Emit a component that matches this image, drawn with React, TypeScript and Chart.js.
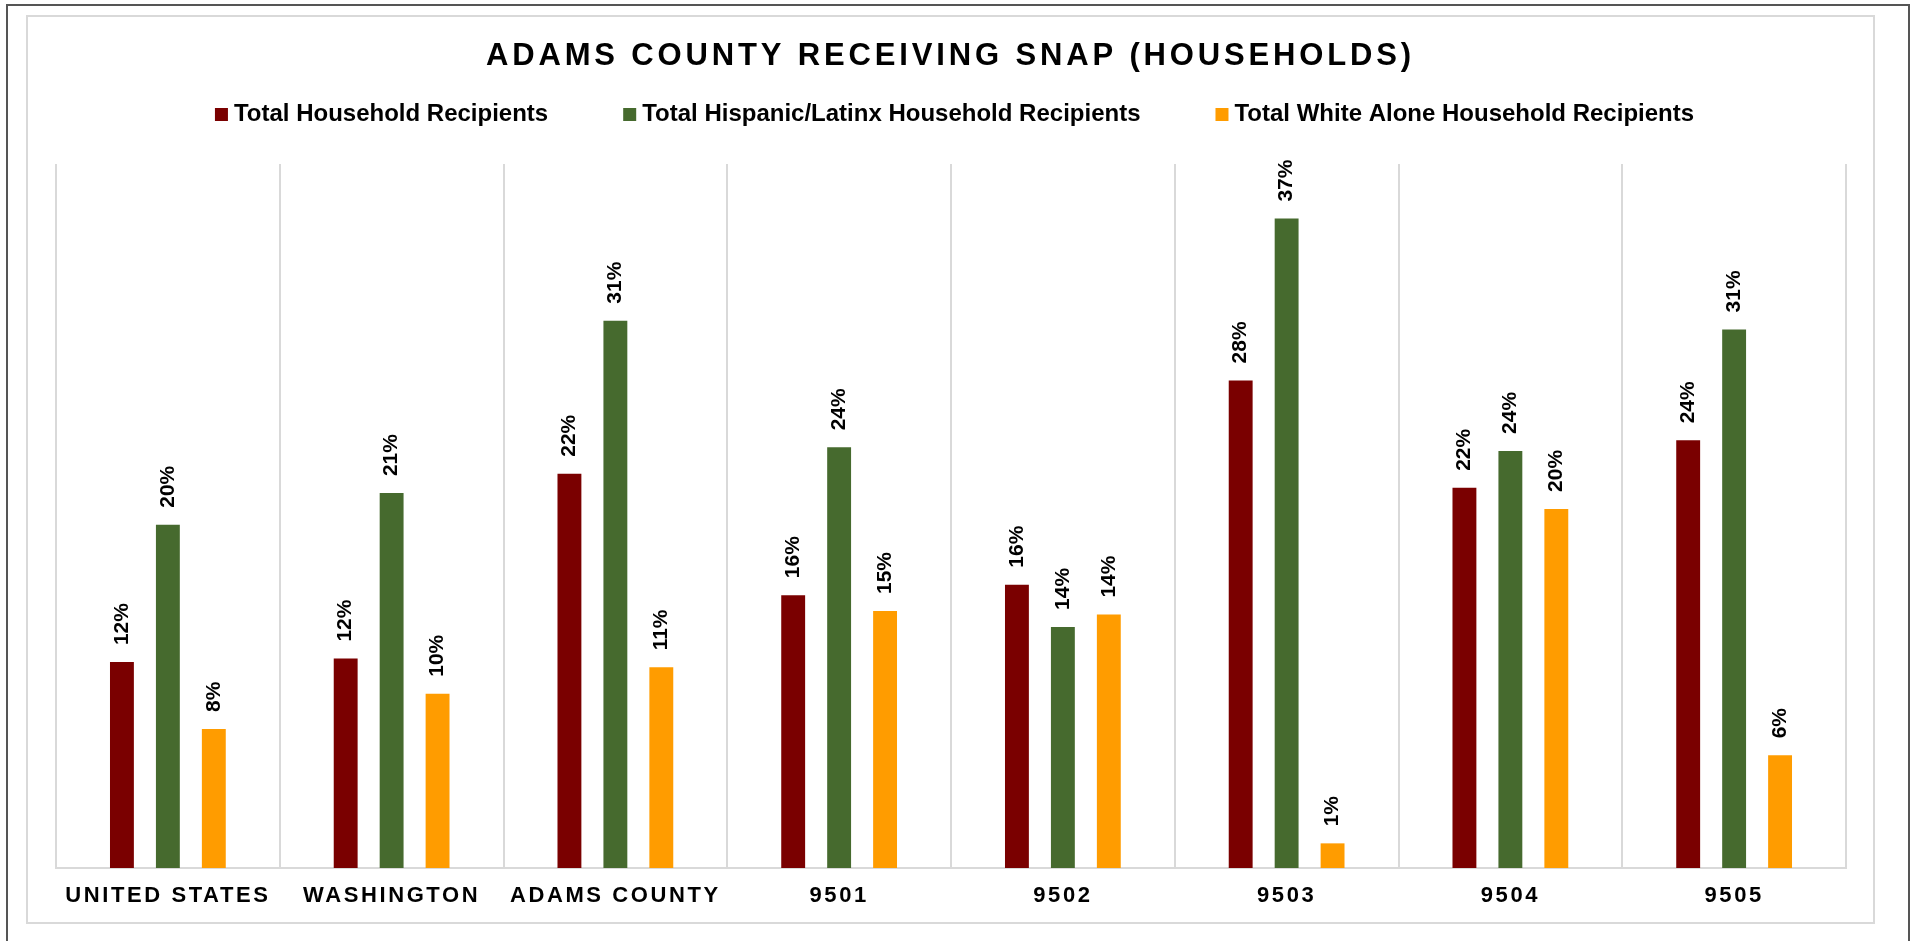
import React, { useEffect, useRef } from 'react';
import { Chart, registerables } from 'chart.js';

Chart.register(...registerables);

const FONT = '"Liberation Sans", Arial, Helvetica, sans-serif';

const titleText = 'ADAMS COUNTY RECEIVING SNAP (HOUSEHOLDS)';
const categories = ['UNITED STATES', 'WASHINGTON', 'ADAMS COUNTY', '9501', '9502', '9503', '9504', '9505'];
const seriesNames = [
  'Total Household Recipients',
  'Total Hispanic/Latinx Household Recipients',
  'Total White Alone Household Recipients',
];
const totalHousehold = [11.7, 11.9, 22.4, 15.5, 16.1, 27.7, 21.6, 24.3];
const hispanicHousehold = [19.5, 21.3, 31.1, 23.9, 13.7, 36.9, 23.7, 30.6];
const whiteAloneHousehold = [7.9, 9.9, 11.4, 14.6, 14.4, 1.4, 20.4, 6.4];
const seriesColors = ['#7A0000', '#466A2E', '#FF9C00'];
const yMin = 0;
const yMax = 40;

const decorPlugin = {
  id: 'decor',
  beforeDraw(chart: any) {
    const ctx = chart.ctx as any;
    ctx.save();
    // Title
    ctx.letterSpacing = '3.85px';
    ctx.font = `bold 31px ${FONT}`;
    ctx.fillStyle = '#000';
    ctx.textAlign = 'center';
    ctx.textBaseline = 'alphabetic';
    ctx.fillText(titleText, chart.width / 2, 48);
    // Legend
    ctx.letterSpacing = '0px';
    ctx.font = `bold 24px ${FONT}`;
    const box = 13;
    const gapBT = 6;
    const gapItems = 75;
    const widths = seriesNames.map((n) => ctx.measureText(n).width);
    const total =
      widths.reduce((a: number, w: number) => a + box + gapBT + w, 0) + gapItems * (seriesNames.length - 1);
    let x = chart.width / 2 + 4 - total / 2;
    ctx.textAlign = 'left';
    seriesNames.forEach((n, i) => {
      ctx.fillStyle = seriesColors[i];
      ctx.fillRect(x, 91, box, box);
      ctx.fillStyle = '#000';
      ctx.fillText(n, x + box + gapBT, 104);
      x += box + gapBT + widths[i] + gapItems;
    });
    ctx.restore();
    // spacing for the category tick labels
    ctx.letterSpacing = '2.6px';
  },
  afterDatasetsDraw(chart: any) {
    const ctx = chart.ctx as any;
    ctx.save();
    ctx.letterSpacing = '0px';
    ctx.font = `bold 21px ${FONT}`;
    ctx.fillStyle = '#000';
    ctx.textAlign = 'left';
    ctx.textBaseline = 'middle';
    chart.data.datasets.forEach((ds: any, di: number) => {
      const meta = chart.getDatasetMeta(di);
      meta.data.forEach((bar: any, i: number) => {
        const v = ds.data[i];
        ctx.save();
        ctx.translate(bar.x, bar.y - 17);
        ctx.rotate(-Math.PI / 2);
        ctx.fillText(Math.round(v) + '%', 0, 0);
        ctx.restore();
      });
    });
    ctx.restore();
  },
  afterDraw(chart: any) {
    (chart.ctx as any).letterSpacing = '0px';
  },
};

export default function App() {
  const ref = useRef<HTMLCanvasElement>(null);

  useEffect(() => {
    document.body.style.margin = '0';
    document.body.style.overflow = 'hidden';
    const datasets = [totalHousehold, hispanicHousehold, whiteAloneHousehold].map((d, i) => ({
      label: seriesNames[i],
      data: d,
      backgroundColor: seriesColors[i],
      borderWidth: 0,
      categoryPercentage: 0.616,
      barPercentage: 0.52,
    }));
    const chart = new Chart(ref.current as HTMLCanvasElement, {
      type: 'bar',
      data: { labels: categories, datasets },
      plugins: [decorPlugin],
      options: {
        responsive: false,
        maintainAspectRatio: false,
        animation: false,
        layout: { padding: { top: 147, left: 28, right: 27, bottom: 0 } },
        plugins: {
          legend: { display: false },
          title: { display: false },
          tooltip: { enabled: false },
        },
        scales: {
          x: {
            grid: { display: true, offset: true, color: '#D9D9D9', lineWidth: 2, drawTicks: false },
            border: { display: true, color: '#D9D9D9', width: 2 },
            ticks: {
              color: '#000',
              font: { family: FONT, size: 22, weight: 'bold' },
              padding: 15,
              maxRotation: 0,
              autoSkip: false,
            },
            afterFit(scale: any) {
              scale.height = 54;
            },
          },
          y: { display: false, min: yMin, max: yMax },
        },
      } as any,
    });
    return () => chart.destroy();
  }, []);

  return (
    <div
      style={{
        position: 'fixed',
        left: 6,
        top: 4,
        width: 1904,
        height: 937,
        boxSizing: 'border-box',
        borderTop: '2px solid #555555',
        borderLeft: '2px solid #555555',
        borderRight: '2px solid #555555',
        background: '#fff',
      }}
    >
      <div
        style={{
          position: 'absolute',
          left: 18,
          top: 9,
          width: 1849,
          height: 909,
          boxSizing: 'border-box',
          border: '2px solid #D9D9D9',
        }}
      >
        <canvas ref={ref} width={1845} height={905} style={{ display: 'block', width: 1845, height: 905 }} />
      </div>
    </div>
  );
}
